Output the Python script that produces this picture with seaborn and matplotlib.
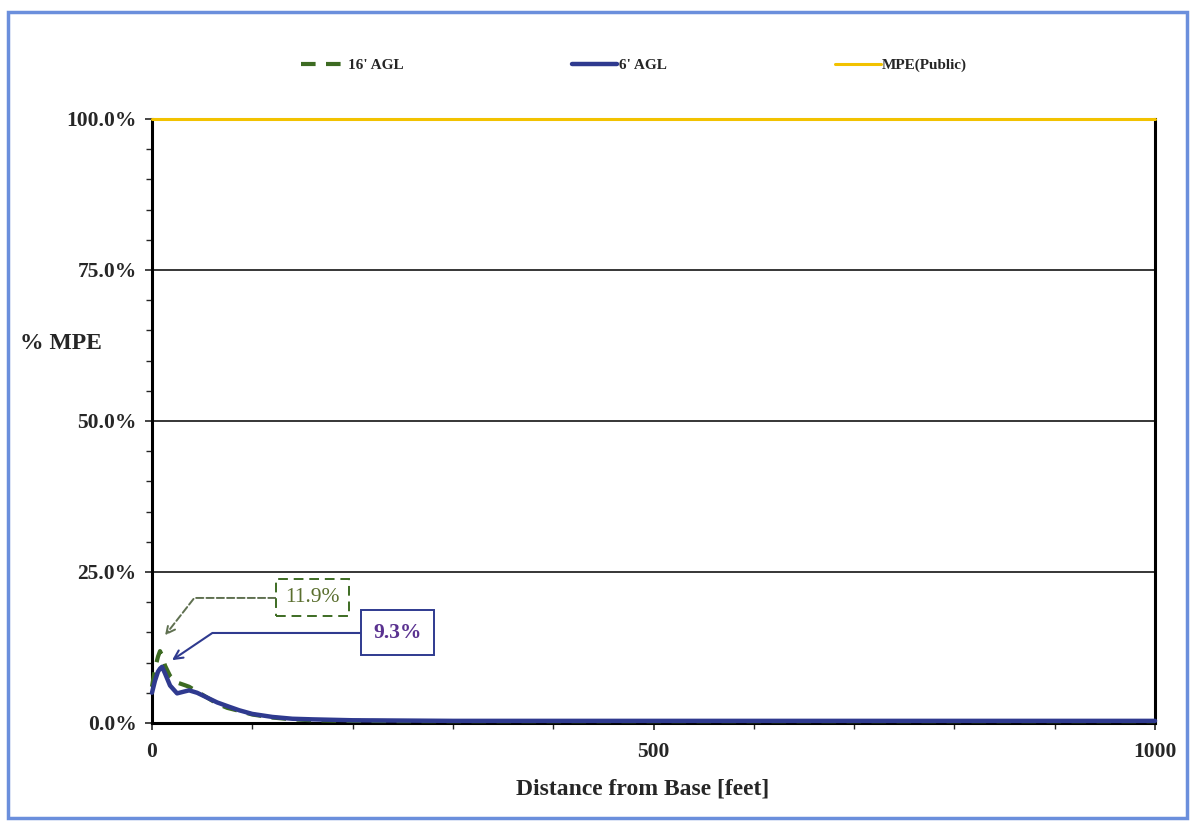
import matplotlib
matplotlib.use('Agg')

import numpy as np
import pandas as pd
import matplotlib.pyplot as plt
import seaborn as sns
from matplotlib.patches import Rectangle
from matplotlib.ticker import MultipleLocator, FuncFormatter

# Veriler
mesafe = [0, 3, 6, 8, 10, 13, 18, 25, 32, 37, 45, 55, 65, 75, 87, 100,
          120, 140, 160, 200, 250, 300, 400, 500, 600, 700, 800, 900, 1000]
agl_16 = [6.0, 9.0, 11.0, 11.9, 11.2, 9.5, 7.8, 6.7, 6.3, 6.0, 5.2, 4.2, 3.2, 2.5, 2.0, 1.4,
          0.9, 0.6, 0.45, 0.35, 0.3, 0.3, 0.3, 0.3, 0.3, 0.3, 0.3, 0.3, 0.3]
agl_6 = [5.0, 7.0, 8.5, 9.0, 9.3, 8.2, 6.2, 4.9, 5.2, 5.4, 5.0, 4.2, 3.4, 2.8, 2.1, 1.5,
         1.0, 0.7, 0.6, 0.45, 0.4, 0.35, 0.35, 0.35, 0.35, 0.35, 0.35, 0.35, 0.35]
mpe_mesafe = [0, 1000]
mpe_public = [100.0, 100.0]

sns.set_style("white")
plt.rcParams['font.family'] = ['Liberation Serif', 'DejaVu Serif']
plt.rcParams['font.weight'] = 'bold'

fig = plt.figure(figsize=(11.93, 8.24), dpi=100)
ax = fig.add_axes([0.1274, 0.1226, 0.8408, 0.733])

yesil = "#3d6b22"
mavi = "#2f3a8f"
sari = "#f2c200"

sns.lineplot(x=mesafe, y=agl_16, ax=ax, color=yesil, lw=3, dashes=False,
             label="16' AGL", zorder=3)
ax.lines[-1].set_dashes((3.5, 2.5))
sns.lineplot(x=mesafe, y=agl_6, ax=ax, color=mavi, lw=3.2, label="6' AGL", zorder=4)
sns.lineplot(x=mpe_mesafe, y=mpe_public, ax=ax, color=sari, lw=2.2,
             label="MPE(Public)", zorder=5)
for ln in ax.lines:
    ln.set_clip_on(False)

ax.set_xlim(0, 1000)
ax.set_ylim(0, 100)
ax.xaxis.set_major_locator(MultipleLocator(500))
ax.xaxis.set_minor_locator(MultipleLocator(100))
ax.yaxis.set_major_locator(MultipleLocator(25))
ax.yaxis.set_minor_locator(MultipleLocator(5))
ax.yaxis.set_major_formatter(FuncFormatter(lambda v, p: f"{v:.1f}%"))
ax.tick_params(axis='both', which='major', labelsize=15.5, length=5, width=1.2,
               direction='out', left=True, bottom=True, pad=6)
ax.tick_params(axis='x', which='major', pad=9)
ax.tick_params(axis='both', which='minor', length=4, width=1, direction='out',
               left=True, bottom=True)
for lbl in ax.get_xticklabels() + ax.get_yticklabels():
    lbl.set_fontweight('bold')

ax.grid(axis='y', which='major', color='black', lw=1.1)
ax.set_axisbelow(True)
for s in ['left', 'right', 'bottom']:
    ax.spines[s].set_color('black')
    ax.spines[s].set_linewidth(2.2)
ax.spines['top'].set_color('#555555')
ax.spines['top'].set_linewidth(1.2)

ax.set_ylabel("% MPE", rotation=0, fontsize=17, fontweight='bold', ha='center', va='center')
ax.yaxis.set_label_coords(-0.091, 0.629)
ax.set_xlabel("Distance from Base [feet]", fontsize=17, fontweight='bold')
ax.xaxis.set_label_coords(0.489, -0.092)

# Tepe değer etiketleri
ax.annotate("11.9%", xy=(13, 14.5), xytext=(160, 20.7), fontsize=15.5,
            color="#5a6e2e", fontweight='normal', ha='center', va='center',
            bbox=dict(boxstyle='square,pad=0.42', facecolor='white',
                      edgecolor=yesil, linestyle=(0, (5, 3)), lw=1.4),
            arrowprops=dict(arrowstyle='->', color='#5f7050', linestyle='--', lw=1.4,
                            connectionstyle='angle,angleA=0,angleB=52,rad=0',
                            shrinkA=0, shrinkB=0))
ax.annotate("9.3%", xy=(20, 10.4), xytext=(245, 14.9), fontsize=15.5,
            color="#5a3290", fontweight='bold', ha='center', va='center',
            bbox=dict(boxstyle='square,pad=0.58', facecolor='white',
                      edgecolor=mavi, lw=1.4),
            arrowprops=dict(arrowstyle='->', color=mavi, lw=1.5,
                            connectionstyle='angle,angleA=0,angleB=34,rad=0',
                            shrinkA=0, shrinkB=0))

leg = ax.legend(loc='center left', bbox_to_anchor=(0.142, 1.089), ncol=3, frameon=False,
                handlelength=3.0, handletextpad=0.1, columnspacing=11.0,
                borderaxespad=0, prop={'weight': 'bold', 'size': 11})

# Dış mavi çerçeve
fig.patches.append(Rectangle((0.007, 0.007), 0.988, 0.979, transform=fig.transFigure,
                             fill=False, edgecolor='#6b8fdc', lw=2.5))

fig.savefig("out.png", dpi=100)
plt.close(fig)
